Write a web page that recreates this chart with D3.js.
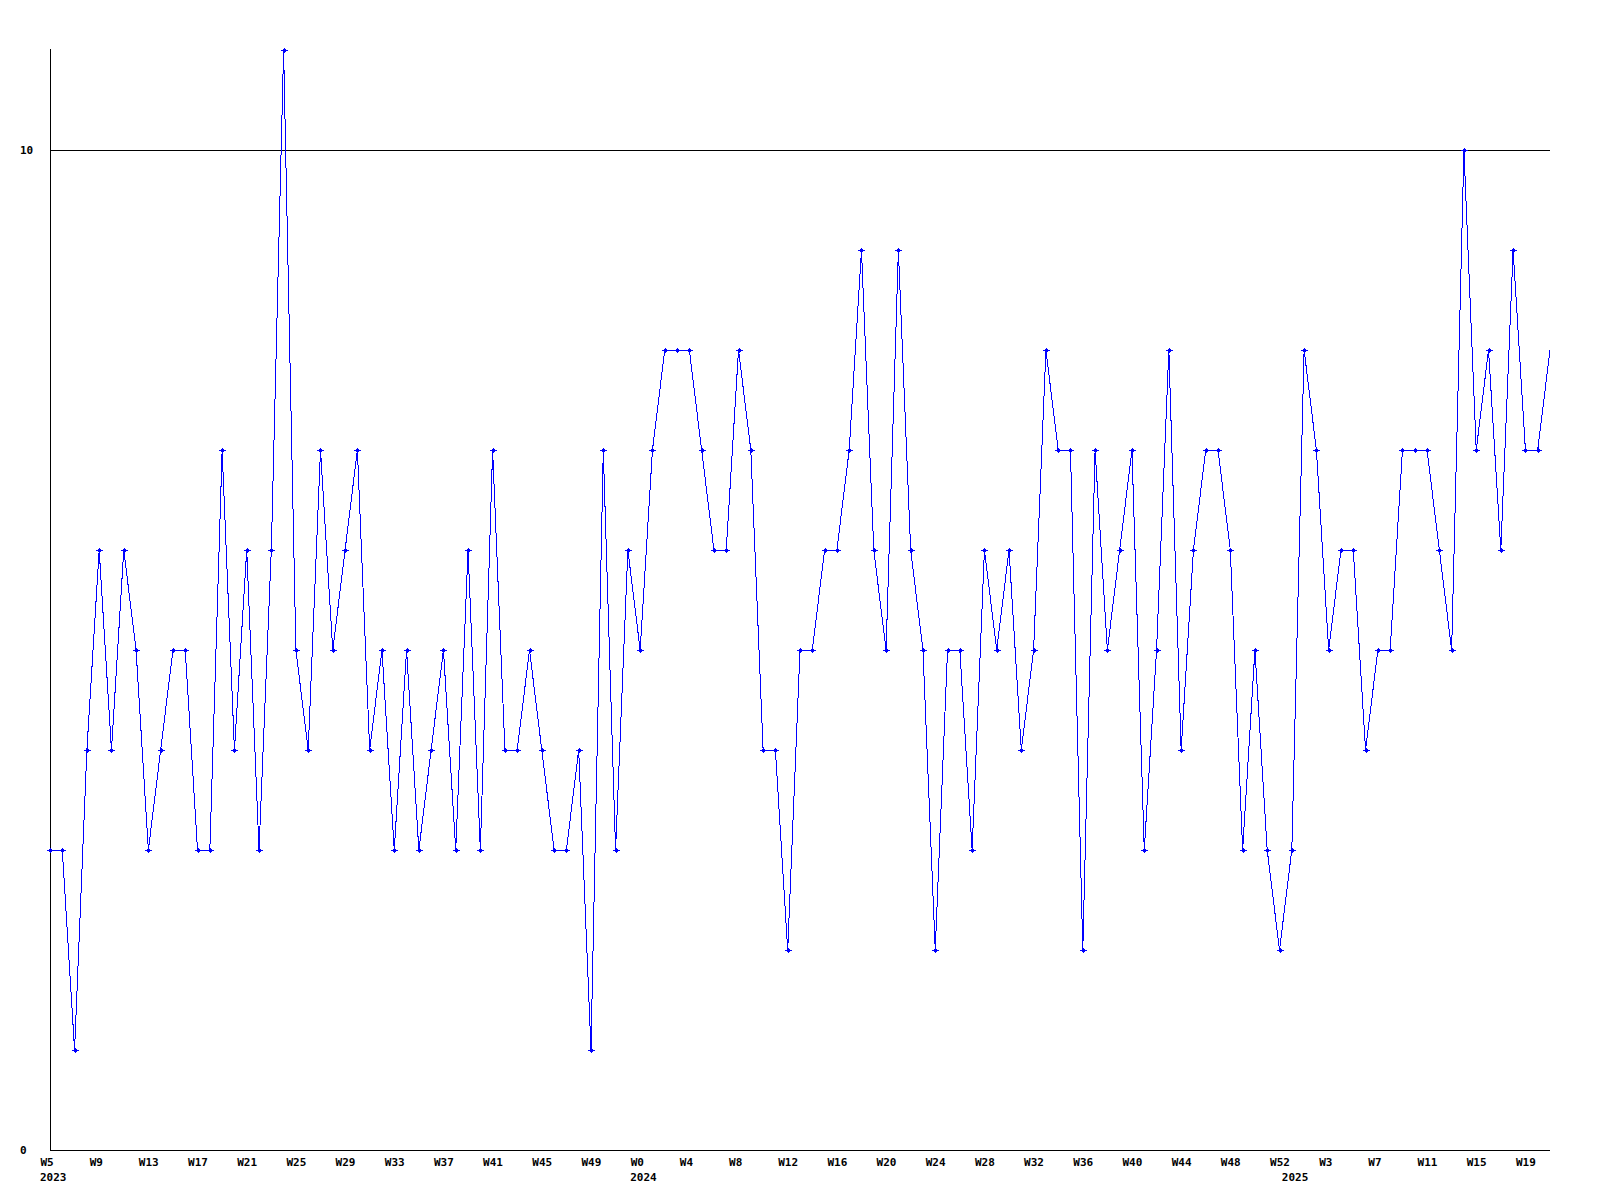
<!DOCTYPE html>
<html>
<head>
<meta charset="utf-8">
<script src="https://cdn.jsdelivr.net/npm/d3@7"></script>
<style>
  html, body { margin: 0; padding: 0; background: #ffffff; }
  svg { display: block; }
  text { font-family: "DejaVu Sans Mono", monospace; font-weight: bold; font-size: 11px; fill: #000; }
</style>
</head>
<body>
<svg id="chart" width="1600" height="1200"></svg>
<script>
// ---- data ----
const years = ["2023", "2024", "2025"];
const weeks2023 = d3.range(5, 53);   // W5 .. W52
const weeks2024 = d3.range(0, 53);   // W0 .. W52
const weeks2025 = d3.range(0, 22);   // W0 .. W21
const values = [
  3,3,1,4,6,4,6,5,3,4,5,5,3,3,7,4,6,3,6,11,5,4,7,
  5,6,7,4,5,3,5,3,4,5,3,6,3,7,4,4,5,4,3,3,4,1,7,3,6,5,
  7,8,8,8,7,6,6,8,7,4,4,2,5,5,6,6,7,9,6,5,9,6,5,2,5,5,
  3,6,5,6,4,5,8,7,7,2,7,5,6,7,3,5,8,4,6,7,7,6,3,5,3,2,3,
  8,7,5,6,6,4,5,5,7,7,7,6,5,10,7,8,6,9,7,7,8
];
const yTicks = [0, 10];

// categories built from the week lists
const categories = [];
[weeks2023, weeks2024, weeks2025].forEach((ws, yi) => {
  ws.forEach((w, wi) => categories.push({ key: years[yi] + "-W" + w, week: "W" + w, year: years[yi], first: wi === 0 }));
});
const data = categories.map((c, i) => ({ ...c, value: values[i], i }));

// ---- layout ----
const svg = d3.select("#chart");
const x = d3.scalePoint().domain(categories.map(c => c.key)).range([50, 1550]);
const y = d3.scaleLinear().domain([0, 11]).range([1150, 50]);

// gridline at 10
svg.append("g").selectAll("line").data(yTicks.filter(t => t > 0)).join("line")
  .attr("x1", 50).attr("x2", 1550)
  .attr("y1", d => y(d) + 0.5).attr("y2", d => y(d) + 0.5)
  .attr("stroke", "#000").attr("stroke-width", 1)
  .attr("shape-rendering", "crispEdges");

// axes lines
svg.append("line").attr("x1", 50.5).attr("x2", 50.5).attr("y1", 49).attr("y2", 1150.5)
  .attr("stroke", "#000").attr("shape-rendering", "crispEdges");
svg.append("line").attr("x1", 50).attr("x2", 1550).attr("y1", 1150.5).attr("y2", 1150.5)
  .attr("stroke", "#000").attr("shape-rendering", "crispEdges");

// y axis labels
const yAxis = d3.axisLeft(y).tickValues(yTicks).tickSize(0).tickFormat(d3.format("d"));
const gy = svg.append("g").attr("transform", "translate(50,0)").call(yAxis);
gy.select(".domain").remove();
gy.selectAll("text").attr("text-anchor", "start").attr("x", -30).attr("dy", "0.35em")
  .style("font-family", "'DejaVu Sans Mono', monospace").style("font-weight", "bold").style("font-size", "11px");

// x axis week labels (every 4th point)
const tickKeys = categories.filter((c, i) => i % 4 === 0).map(c => c.key);
const weekOf = new Map(categories.map(c => [c.key, c.week]));
const xAxis = d3.axisBottom(x).tickValues(tickKeys).tickSize(0).tickFormat(k => weekOf.get(k));
const gx = svg.append("g").attr("transform", "translate(0,1150)").call(xAxis);
gx.select(".domain").remove();
gx.selectAll("text").attr("text-anchor", "start").attr("x", -10).attr("y", 16).attr("dy", 0)
  .style("font-family", "'DejaVu Sans Mono', monospace").style("font-weight", "bold").style("font-size", "11px");

// year labels at first week of each year
svg.append("g").selectAll("text").data(data.filter(d => d.first)).join("text")
  .attr("x", d => x(d.key) - 10).attr("y", 1181)
  .text(d => d.year);

// line
const line = d3.line().x(d => x(d.key)).y(d => y(d.value));
svg.append("path").datum(data)
  .attr("d", line)
  .attr("fill", "none")
  .attr("stroke", "#0000ff")
  .attr("stroke-width", 1)
  .attr("shape-rendering", "crispEdges");

// markers (small crosses)
const mk = svg.append("g").attr("fill", "#0000ff").attr("shape-rendering", "crispEdges");
const pts = data.slice(0, data.length - 1);
mk.selectAll("rect.h").data(pts).join("rect").attr("class", "h")
  .attr("x", d => Math.round(x(d.key)) - 3).attr("y", d => Math.round(y(d.value)))
  .attr("width", 7).attr("height", 1);
mk.selectAll("rect.v").data(pts).join("rect").attr("class", "v")
  .attr("x", d => Math.round(x(d.key))).attr("y", d => Math.round(y(d.value)) - 2)
  .attr("width", 1).attr("height", 5);
mk.selectAll("rect.c").data(pts).join("rect").attr("class", "c")
  .attr("x", d => Math.round(x(d.key)) - 1).attr("y", d => Math.round(y(d.value)) - 1)
  .attr("width", 3).attr("height", 3);
</script>
</body>
</html>
